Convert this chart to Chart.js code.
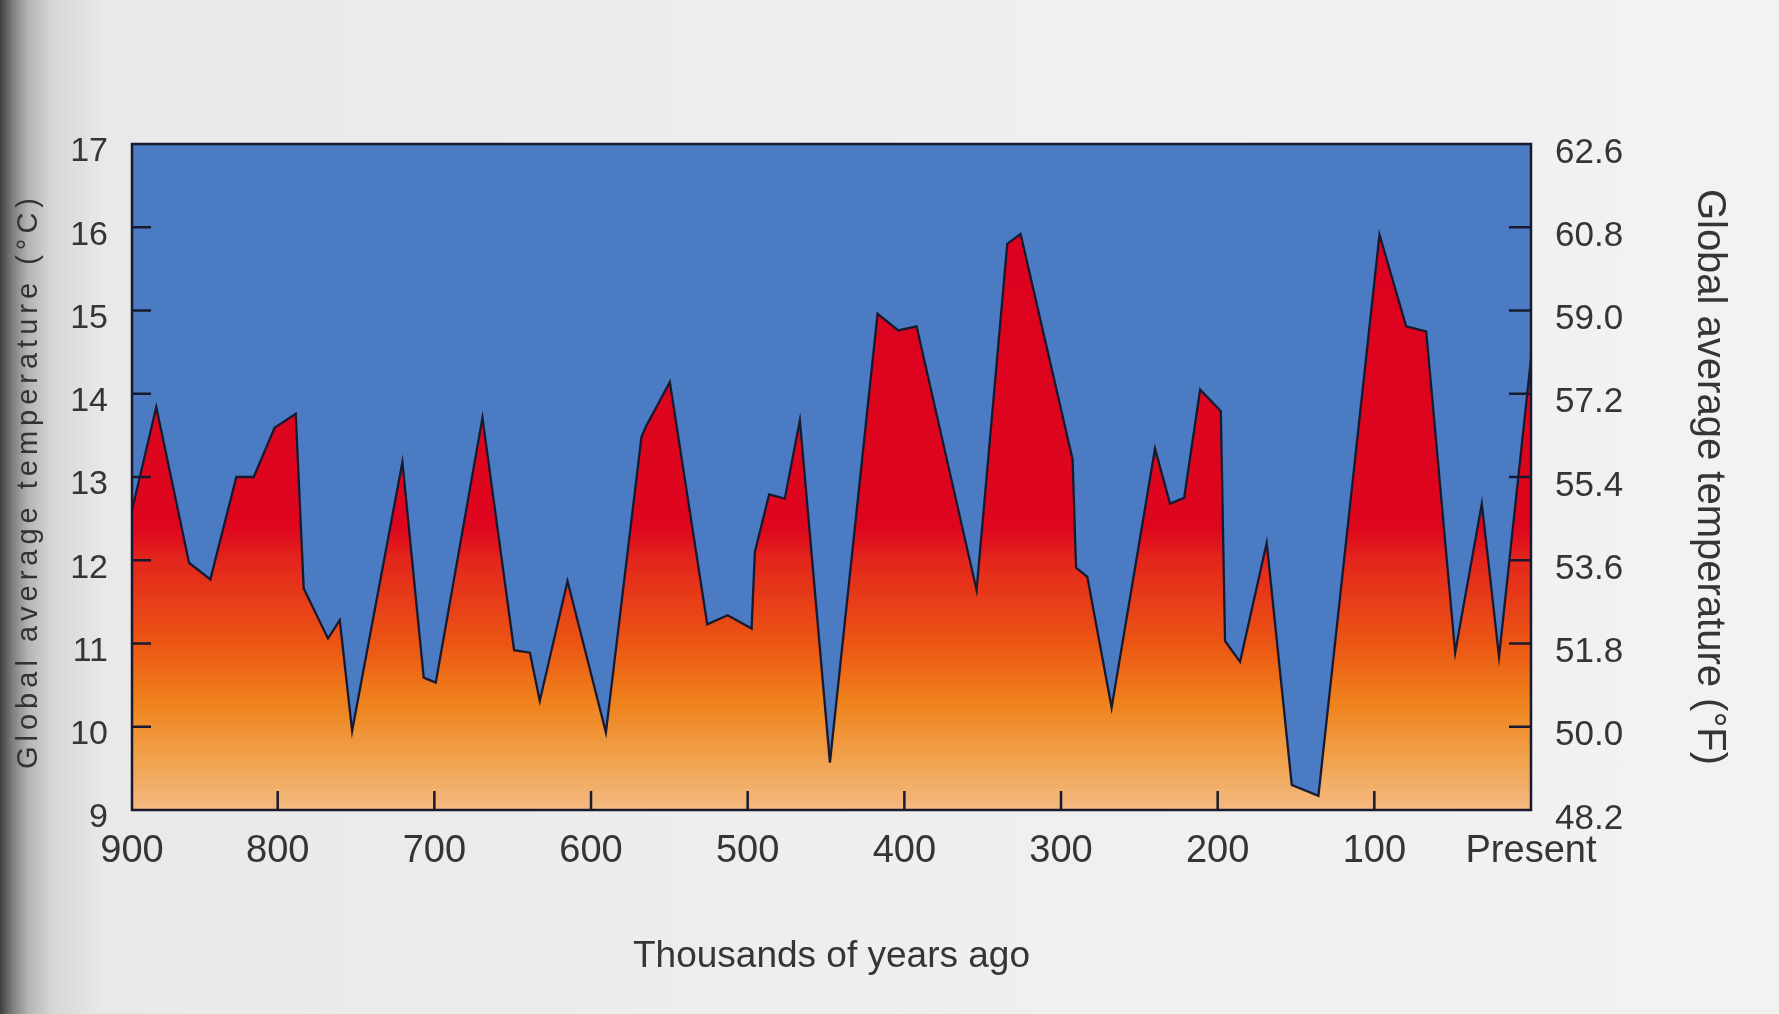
<!DOCTYPE html>
<html>
<head>
<meta charset="utf-8">
<title>Global average temperature, last 900,000 years</title>
<script src="https://cdn.jsdelivr.net/npm/chart.js@4.4.1/dist/chart.umd.min.js"></script>
<style>
  html, body { margin: 0; padding: 0; }
  body {
    width: 1779px;
    height: 1014px;
    overflow: hidden;
    background: linear-gradient(90deg, #3e3e3e 0px, #7c7c7c 12px, #b4b4b4 28px, #d6d6d6 52px, #e9e9e9 105px, #efefef 55%, #f2f2f2 100%);
  }
  .chart-box { position: absolute; left: 0; top: 0; width: 1779px; height: 1014px; }
</style>
</head>
<body>
<div class="chart-box"><canvas id="tempChart"></canvas></div>
<script>
// thousands of years ago (left edge of the record is ~893)
const kyrAgo = [
    893, 877.5, 856.6, 843, 826.4, 815.3, 802, 788.5, 783.4, 767.9,
    760.4, 752.5, 720.4, 706.8, 699.1, 669.3, 649.1, 639, 632.7, 615,
    590.5, 567.8, 564.6, 549.7, 525.8, 512.8, 497.5, 495.4, 486.3, 476.3,
    466.7, 447.5, 417.1, 403.9, 392.2, 353.9, 334.3, 325.8, 292.6, 290.4,
    283.2, 267.7, 240, 230.4, 221.4, 211.2, 198, 195.3, 185.7, 168.7,
    152.7, 135.7, 96.7, 79.7, 66.9, 48.4, 31.4, 20.4, 0
];
// global average temperature, deg C
const tempC = [
    12.6, 13.84, 11.97, 11.77, 13.0, 13.0, 13.59, 13.76, 11.66, 11.06,
    11.28, 9.95, 13.18, 10.59, 10.53, 13.71, 10.92, 10.89, 10.31, 11.75,
    9.93, 13.48, 13.62, 14.14, 11.23, 11.34, 11.18, 12.10, 12.79, 12.74,
    13.68, 9.57, 14.96, 14.76, 14.81, 11.64, 15.80, 15.92, 13.21, 11.91,
    11.80, 10.23, 13.34, 12.68, 12.75, 14.05, 13.79, 11.03, 10.78, 12.21,
    9.30, 9.17, 15.91, 14.81, 14.75, 10.89, 12.68, 10.84, 14.42
];

const xTickValues = [900, 800, 700, 600, 500, 400, 300, 200, 100, 0];
const xTickLabels = ['900', '800', '700', '600', '500', '400', '300', '200', '100', 'Present'];
const cTicks = [9, 10, 11, 12, 13, 14, 15, 16, 17];
const fTicks = [48.2, 50.0, 51.8, 53.6, 55.4, 57.2, 59.0, 60.8, 62.6];

const FONT = '"Liberation Sans", Arial, Helvetica, sans-serif';
const TEXT = '#353535';
const INK = '#191a30';

// fill colours from the top of the plot down to the bottom (by deg C)
const fillStops = [
    [17, '#dc001f'],
    [12.4, '#de061e'],
    [12.0, '#e3261c'],
    [11.0, '#eb5614'],
    [10.3, '#ee821c'],
    [9.6, '#f1a24e'],
    [9.0, '#f3ba82']
];

function areaGradient(chart) {
    const area = chart.chartArea;
    if (!area) return fillStops[0][1];
    const y = chart.scales.y;
    const g = chart.ctx.createLinearGradient(0, area.top, 0, area.bottom);
    fillStops.forEach(([t, c]) => {
        g.addColorStop((y.getPixelForValue(t) - area.top) / (area.bottom - area.top), c);
    });
    return g;
}

const plotDecor = {
    id: 'plotDecor',
    beforeDatasetsDraw(chart) {
        const {ctx, chartArea: a} = chart;
        ctx.save();
        ctx.fillStyle = '#4a7bc3';
        ctx.fillRect(a.left, a.top, a.right - a.left, a.bottom - a.top);
        ctx.restore();
    },
    afterDatasetsDraw(chart) {
        const {ctx, chartArea: a, scales} = chart;
        const len = 19;
        ctx.save();
        ctx.strokeStyle = INK;
        ctx.lineWidth = 2.5;
        ctx.beginPath();
        // inner tick marks
        xTickValues.slice(1, -1).forEach(v => {
            const px = scales.x.getPixelForValue(v);
            ctx.moveTo(px, a.bottom);
            ctx.lineTo(px, a.bottom - len);
        });
        cTicks.slice(1, -1).forEach(v => {
            const py = scales.y.getPixelForValue(v);
            ctx.moveTo(a.left, py);
            ctx.lineTo(a.left + len, py);
        });
        fTicks.slice(1, -1).forEach(v => {
            const py = scales.yF.getPixelForValue(v);
            ctx.moveTo(a.right, py);
            ctx.lineTo(a.right - len - 3, py);
        });
        ctx.stroke();
        ctx.strokeRect(a.left, a.top, a.right - a.left, a.bottom - a.top);
        ctx.restore();
    },
    afterDraw(chart) {
        // left title is set with wide letter spacing in the original
        const {ctx, chartArea: a} = chart;
        ctx.save();
        ctx.translate(29, (a.top + a.bottom) / 2 + 4);
        ctx.rotate(-Math.PI / 2);
        ctx.font = '29px ' + FONT;
        ctx.letterSpacing = '5px';
        ctx.fillStyle = '#333333';
        ctx.textAlign = 'center';
        ctx.textBaseline = 'middle';
        ctx.fillText('Global average temperature (°C)', 0, 0);
        ctx.restore();
    }
};

Chart.defaults.font.family = FONT;
Chart.defaults.color = TEXT;

const tempChart = new Chart(document.getElementById('tempChart'), {
    type: 'line',
    data: {
        datasets: [{
            label: 'Global average temperature',
            data: kyrAgo.map((k, i) => ({x: k, y: tempC[i]})),
            borderColor: INK,
            borderWidth: 2.3,
            pointRadius: 0,
            tension: 0,
            fill: 'start',
            backgroundColor: ctx => areaGradient(ctx.chart),
            xAxisID: 'x',
            yAxisID: 'y'
        }]
    },
    options: {
        responsive: true,
        maintainAspectRatio: false,
        animation: false,
        layout: {padding: {top: 144, left: 0, right: 0, bottom: 0}},
        plugins: {
            legend: {display: false},
            tooltip: {enabled: false}
        },
        scales: {
            x: {
                type: 'linear',
                reverse: true,
                min: 0,
                max: kyrAgo[0],
                afterBuildTicks: s => { s.ticks = xTickValues.map(v => ({value: Math.min(v, s.max)})); },
                afterFit: s => { s.height = 204; },
                grid: {display: false, drawTicks: false},
                border: {display: false},
                ticks: {
                    autoSkip: false,
                    maxRotation: 0,
                    padding: 19,
                    font: {size: 38},
                    callback: (v, i) => xTickLabels[i]
                },
                title: {
                    display: true,
                    text: 'Thousands of years ago',
                    font: {size: 37},
                    padding: {top: 0, bottom: 35}
                }
            },
            y: {
                type: 'linear',
                position: 'left',
                min: cTicks[0],
                max: cTicks[cTicks.length - 1],
                afterBuildTicks: s => { s.ticks = cTicks.map(v => ({value: v})); },
                afterFit: s => { s.width = 132; },
                grid: {display: false, drawTicks: false},
                border: {display: false},
                ticks: {
                    padding: 24,
                    labelOffset: 8,
                    font: {size: 34},
                    callback: v => String(v)
                }
            },
            yF: {
                type: 'linear',
                axis: 'y',
                position: 'right',
                min: fTicks[0],
                max: fTicks[fTicks.length - 1],
                afterBuildTicks: s => { s.ticks = fTicks.map(v => ({value: v})); },
                afterFit: s => { s.width = 248; },
                grid: {display: false, drawTicks: false},
                border: {display: false},
                ticks: {
                    padding: 24,
                    labelOffset: 9,
                    font: {size: 35},
                    callback: v => Number(v).toFixed(1)
                },
                title: {
                    display: true,
                    text: 'Global average temperature (°F)',
                    font: {size: 40},
                    padding: {top: 46, bottom: 0}
                }
            }
        }
    },
    plugins: [plotDecor]
});
</script>
</body>
</html>
